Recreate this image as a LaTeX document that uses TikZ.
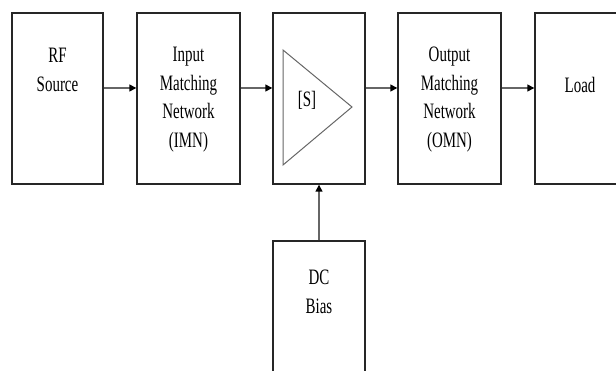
\documentclass[tikz,border=0pt]{standalone}
\usepackage{fontspec}
\setmainfont{Liberation Serif}[FakeStretch=0.68]
\usepackage{tikz}
\usetikzlibrary{arrows.meta}

\begin{document}
\begin{tikzpicture}[x=1pt,y=-1pt,
        blk/.style={draw=black!85,line width=1.4pt,minimum height=171pt,inner sep=0pt},
        lbl/.style={align=center,inner sep=0pt,anchor=north,font=\fontsize{22}{28.5}\selectfont},
        feed/.style={draw=black!60,line width=1.4pt,-{Triangle[length=7pt,width=7pt,color=black]}}]
        \useasboundingbox (0,0) rectangle (616,371);

        % blocks of the chain
        \node[blk,minimum width=91pt]  (rf)   at (57.5,98.5)  {};
        \node[blk,minimum width=103pt] (imn)  at (188.5,98.5) {};
        \node[blk,minimum width=92pt]  (amp)  at (319,98.5)   {};
        \node[blk,minimum width=103pt] (omn)  at (449.5,98.5) {};
        \node[blk,minimum width=92pt]  (load) at (581,98.5)   {};
        \node[blk,minimum width=92pt]  (bias) at (319,326.5)  {};

        % texts
        \node[lbl] (rftxt)   at (57.5,48)  {RF\\Source};
        \node[lbl] (imntxt)  at (188.5,47) {Input\\Matching\\Network\\(IMN)};
        \node[lbl] (omntxt)  at (449.5,47) {Output\\Matching\\Network\\(OMN)};
        \node[lbl] (loadtxt) at (580,77)   {Load};
        \node[lbl] (biastxt) at (319,270)  {DC\\Bias};
        \node[lbl] (stxt)    at (307,91)   {[S]};

        % amplifier symbol
        \draw[draw=black!60,line width=1pt] (283,50) -- (352,107) -- (283,165) -- cycle;

        % connections
        \draw[feed] (rf.east|-0,88)   -- (imn.west|-0,88);
        \draw[feed] (imn.east|-0,88)  -- (amp.west|-0,88);
        \draw[feed] (amp.east|-0,88)  -- (omn.west|-0,88);
        \draw[feed] (omn.east|-0,88)  -- (load.west|-0,88);
        \draw[feed] (bias.north)      -- (amp.south);
\end{tikzpicture}
\end{document}
